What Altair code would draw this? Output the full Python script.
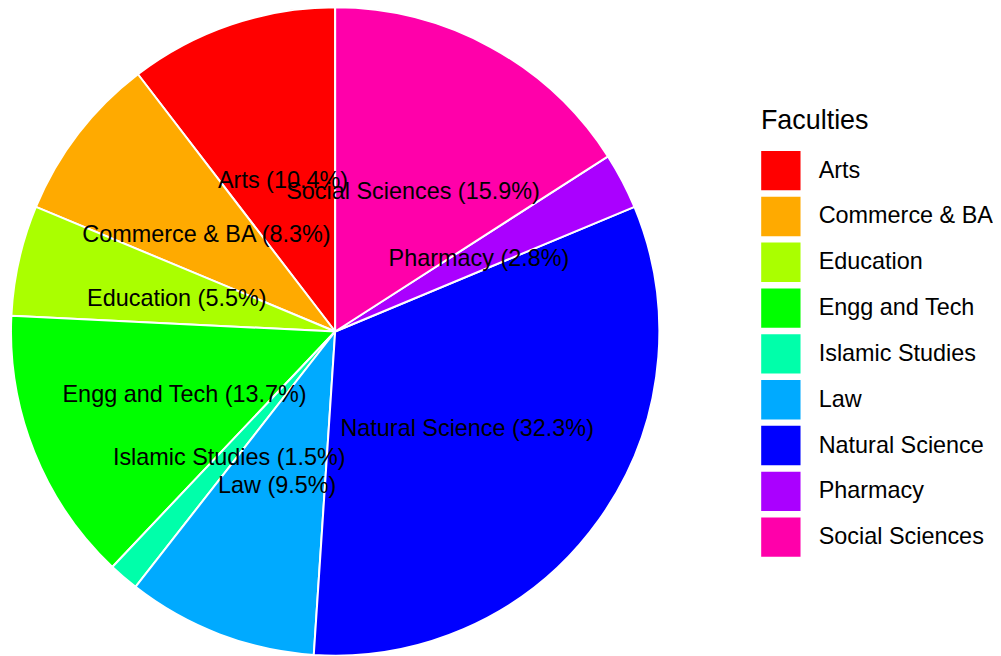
import altair as alt
import pandas as pd

faculties = ["Arts", "Commerce & BA", "Education", "Engg and Tech", "Islamic Studies",
             "Law", "Natural Science", "Pharmacy", "Social Sciences"]
percents = [10.4, 8.3, 5.5, 13.7, 1.5, 9.5, 32.3, 2.8, 15.9]
colors = ["#FF0000", "#FFAA00", "#AAFF00", "#00FF00", "#00FFAA",
          "#00AAFF", "#0000FF", "#AA00FF", "#FF00AA"]

n = len(faculties)
df = pd.DataFrame({
    "Faculty": faculties,
    "pct": percents,
    "ord": [n - 1 - i for i in range(n)],
    "label": [f"{f} ({p}%)" for f, p in zip(faculties, percents)],
})

base = alt.Chart(df).encode(
    theta=alt.Theta("pct:Q", stack=True),
    order=alt.Order("ord:Q", sort="ascending"),
)

pie = base.mark_arc(stroke="white", strokeWidth=2, strokeJoin="round").encode(
    color=alt.Color(
        "Faculty:N",
        scale=alt.Scale(domain=faculties, range=colors),
        legend=alt.Legend(
            title="Faculties",
            orient="none",
            legendX=753,
            legendY=101,
            titleFont="Liberation Sans",
            titleFontSize=27,
            titleFontWeight="normal",
            titleColor="black",
            titlePadding=16,
            labelFont="Liberation Sans",
            labelFontSize=23.5,
            labelColor="black",
            labelOffset=18,
            labelLimit=400,
            symbolType="square",
            symbolSize=1560,
            symbolStrokeWidth=0,
            symbolOpacity=1,
            rowPadding=6,
        ),
    )
)

text = base.mark_text(radius=163, dy=3, font="Liberation Sans", fontSize=23.5, color="black").encode(
    text="label:N"
)

chart = (pie + text).properties(
    width=651, height=651,
    padding={"left": 2, "top": -3, "right": 0, "bottom": 0},
).configure_view(stroke=None)

chart.save("out.html", embed_options={"renderer": "svg", "actions": False})
